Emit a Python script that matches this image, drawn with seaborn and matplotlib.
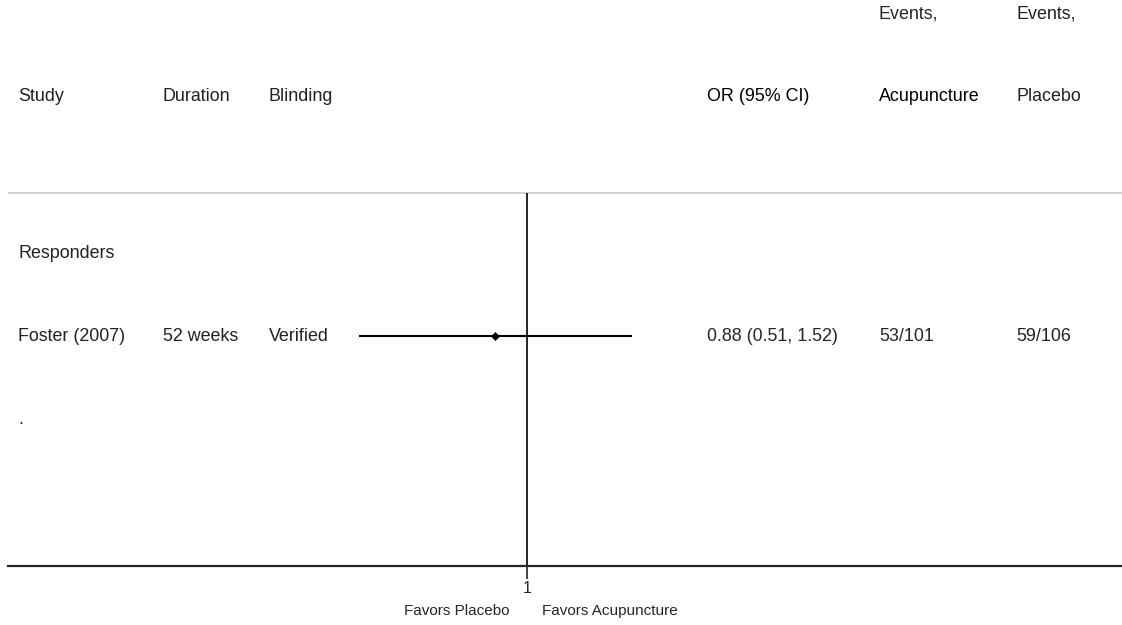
import numpy as np
import pandas as pd
import seaborn as sns
import matplotlib.pyplot as plt
import matplotlib.transforms as mtransforms

# forest plot data
studies = ["Foster (2007)"]
durations = ["52 weeks"]
blinding = ["Verified"]
odds_ratio = [0.88]
ci_low = [0.51]
ci_high = [1.52]
events_acu = ["53/101"]
events_pla = ["59/106"]
group_label = "Responders"
col_headers = ["Study", "Duration", "Blinding", "OR (95% CI)", "Acupuncture", "Placebo"]

df = pd.DataFrame({"study": studies, "or": odds_ratio, "lo": ci_low, "hi": ci_high,
                   "row": [4.0]})

sns.set_style("white")
plt.rcParams["font.family"] = ["Liberation Sans", "DejaVu Sans"]

fig = plt.figure(figsize=(11.22, 6.25), dpi=100)
ax = fig.add_axes([8 / 1122, 59 / 625, 1114 / 1122, 566 / 625])
ax.set_xscale("log")
ax.set_xlim(0.1254, 10.8)
ax.set_ylim(6.77, -0.048)

fs = 12.9
tr = mtransforms.blended_transform_factory(fig.transFigure, ax.transData)

# header
xcols = [18, 163, 269, 707, 879, 1016]
for x, h in zip(xcols, col_headers):
    ax.text(x / 1122, 1.12, h, transform=tr, fontsize=fs, va="center", ha="left",
            color="black" if h in ("OR (95% CI)", "Acupuncture") else "#222222")
ax.text(879 / 1122, 0.12, "Events,", transform=tr, fontsize=fs, va="center")
ax.text(1016 / 1122, 0.12, "Events,", transform=tr, fontsize=fs, va="center", color="#222222")
ax.axhline(2.28, color="#c8c8c8", lw=1.2)

# rows
ax.text(18 / 1122, 3.0, group_label, transform=tr, fontsize=fs, va="center", color="#222222")
for i, r in df.iterrows():
    y = r["row"]
    ax.text(18 / 1122, y, studies[i], transform=tr, fontsize=fs, va="center", color="#222222")
    ax.text(163 / 1122, y, durations[i], transform=tr, fontsize=fs, va="center", color="#222222")
    ax.text(269 / 1122, y, blinding[i], transform=tr, fontsize=fs, va="center", color="#222222")
    ax.text(707 / 1122, y, f"{odds_ratio[i]:.2f} ({ci_low[i]:.2f}, {ci_high[i]:.2f})",
            transform=tr, fontsize=fs, va="center")
    ax.text(879 / 1122, y, events_acu[i], transform=tr, fontsize=fs, va="center")
    ax.text(1016 / 1122, y, events_pla[i], transform=tr, fontsize=fs, va="center", color="#222222")
ax.text(18 / 1122, 5.0, ".", transform=tr, fontsize=fs, va="center")

ax.hlines(df["row"], df["lo"], df["hi"], color="black", lw=1.5, zorder=3)
sns.scatterplot(data=df, x="or", y="row", marker="D", s=18, color="black",
                edgecolor="black", ax=ax, zorder=4)

# null line
ax.vlines(1, 2.28, 6.77, color="black", lw=1.2)

for s in ["top", "left", "right"]:
    ax.spines[s].set_visible(False)
ax.spines["bottom"].set_linewidth(1.6)
ax.set_yticks([])
ax.set_xticks([1])
ax.set_xticklabels(["1"])
ax.minorticks_off()
ax.tick_params(axis="x", direction="out", length=9, width=1.2, pad=2, labelsize=11.5, bottom=True)
ax.set_xlabel("")
ax.set_ylabel("")

fig.text(510 / 1122, 1 - 611 / 625, "Favors Placebo", ha="right", va="center", fontsize=11)
fig.text(542 / 1122, 1 - 611 / 625, "Favors Acupuncture", ha="left", va="center", fontsize=11)

fig.savefig("out.png", dpi=100)
